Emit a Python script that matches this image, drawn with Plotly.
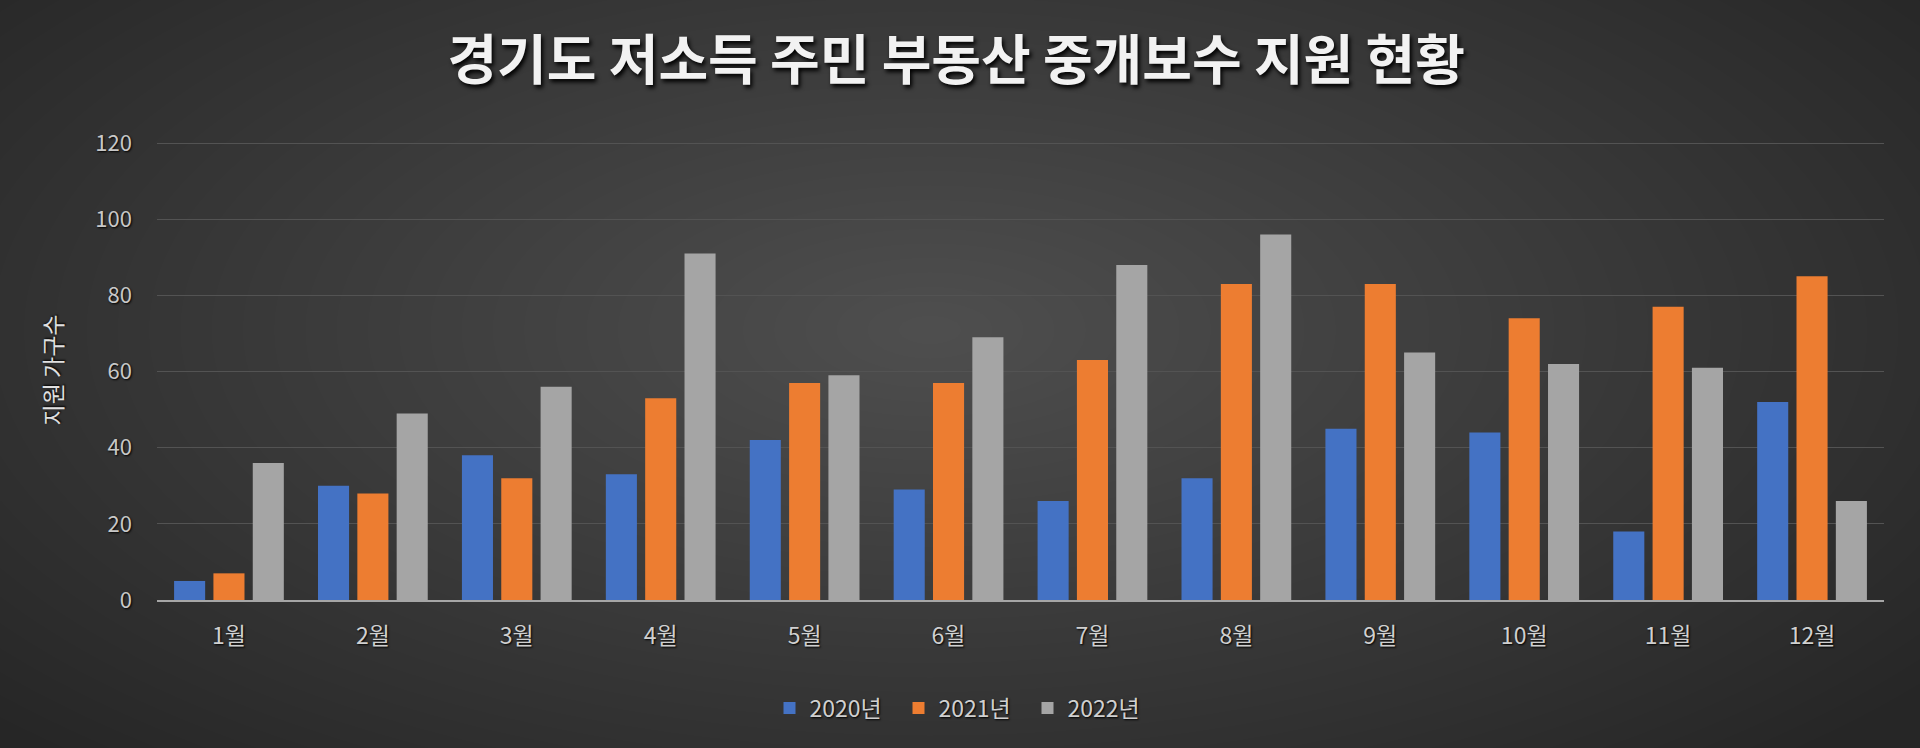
import plotly.graph_objects as go

# monthly support counts
months = ['1월', '2월', '3월', '4월', '5월', '6월', '7월', '8월', '9월', '10월', '11월', '12월']
series_names = ['2020년', '2021년', '2022년']
y2020 = [5, 30, 38, 33, 42, 29, 26, 32, 45, 44, 18, 52]
y2021 = [7, 28, 32, 53, 57, 57, 63, 83, 83, 74, 77, 85]
y2022 = [36, 49, 56, 91, 59, 69, 88, 96, 65, 62, 61, 26]
y_ticks = [0, 20, 40, 60, 80, 100, 120]

colors = ['#4472C4', '#ED7D31', '#A5A5A5']
W, H = 1920, 748
ML, MR, MT, MB = 157, 36, 140, 148
FONT = 'Noto Sans CJK KR'
YTOP = 120.8

fig = go.Figure()
for name, vals, c in zip(series_names, [y2020, y2021, y2022], colors):
    fig.add_trace(go.Bar(x=months, y=vals, name=name, marker=dict(color=c, line=dict(width=0))))

# fake radial background gradient: stacked translucent ellipses
pw, ph = W - ML - MR, H - MT - MB
def px(x):
    return (x - ML) / pw
def py(y):
    return (H - MB - y) / ph

cx, cy = 930, 330
shapes = []
n = 40
for i in range(n):
    f = 1 - i / n
    rx, ry = 1250 * f, 580 * f
    shapes.append(dict(type='circle', xref='paper', yref='paper', layer='below',
                       x0=px(cx - rx), x1=px(cx + rx), y0=py(cy + ry), y1=py(cy - ry),
                       fillcolor='rgba(255,255,255,0.006)', line=dict(width=0)))

shadow = '1px 1px 2px #000000'
fig.update_layout(
    width=W, height=H,
    paper_bgcolor='#262626', plot_bgcolor='rgba(0,0,0,0)',
    margin=dict(l=ML, r=MR, t=MT, b=MB, autoexpand=False),
    shapes=shapes,
    barmode='group', bargap=0.18, bargroupgap=0.21,
    font=dict(family=FONT, color='#d0d0d0', size=22),
    title=dict(text='<b>경기도 저소득 주민 부동산 중개보수 지원 현황</b>', x=0.498, xref='container',
               xanchor='center', y=1 - 61 / H, yanchor='middle',
               font=dict(family=FONT, size=54, color='#f2f2f2', shadow='2px 3px 4px #000000')),
    legend=dict(orientation='h', x=px(963), xanchor='center',
                y=-(708 - (H - MB)) / ph, yanchor='middle',
                font=dict(size=23, color='#d0d0d0', shadow=shadow), itemwidth=30,
                entrywidth=84, bgcolor='rgba(0,0,0,0)'),
    showlegend=True,
)
fig.update_xaxes(showgrid=False, showline=True, linecolor='#a6a6a6', linewidth=2,
                 ticks='', ticklabelstandoff=14, tickfont=dict(size=23, color='#d0d0d0', shadow=shadow))
fig.update_yaxes(range=[0, YTOP], tickvals=y_ticks, showgrid=True, gridcolor='#535353', gridwidth=1,
                 zeroline=False, showline=False, ticklabelstandoff=24,
                 tickfont=dict(size=22, color='#c8c8c8', shadow=shadow),
                 title=dict(text='지원 가구수', standoff=26,
                            font=dict(size=23, color='#e0e0e0', shadow=shadow)))

fig.write_html('out.html', config={'displayModeBar': False},
               post_script="document.body.style.margin='0';document.body.style.background='#262626';")
